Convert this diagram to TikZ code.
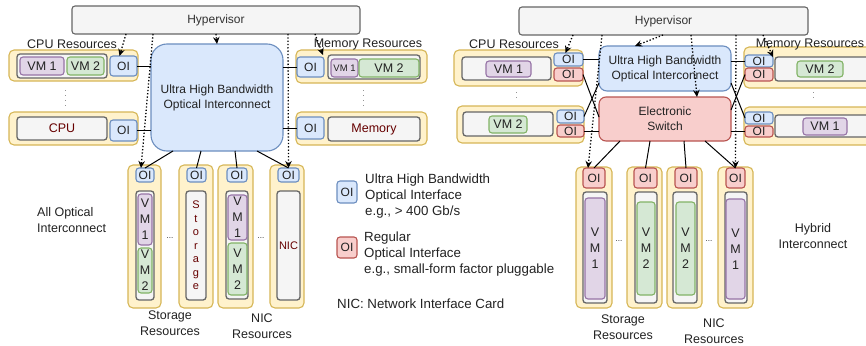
\documentclass[tikz,border=0pt]{standalone}
\usepackage{fontspec}
\setmainfont{Liberation Sans}
\usepackage{tikz}
\usetikzlibrary{positioning,arrows.meta}

\definecolor{grayfill}{HTML}{F5F5F5}
\definecolor{graydraw}{HTML}{666666}
\definecolor{bluefill}{HTML}{DAE8FC}
\definecolor{bluedraw}{HTML}{6C8EBF}
\definecolor{redfill}{HTML}{F8CECC}
\definecolor{reddraw}{HTML}{B85450}
\definecolor{yelfill}{HTML}{FFF2CC}
\definecolor{yeldraw}{HTML}{D6B656}
\definecolor{purfill}{HTML}{E1D5E7}
\definecolor{purdraw}{HTML}{9673A6}
\definecolor{grnfill}{HTML}{D5E8D4}
\definecolor{grndraw}{HTML}{82B366}
\definecolor{devtext}{HTML}{660000}
\definecolor{txt}{HTML}{222222}

\begin{document}
\begin{tikzpicture}[x=1pt, y=-1pt,
    base/.style={draw, line width=1.1pt, rounded corners=3pt, inner sep=0pt, outer sep=0pt,
      anchor=north west, align=center, text=txt, font=\fontsize{12.5}{16}\selectfont},
    wh/.style 2 args={minimum width=#1pt, minimum height=#2pt},
    hyper/.style={base, fill=grayfill, draw=graydraw, text=black!80, font=\fontsize{12}{15}\selectfont},
    optic/.style={base, fill=bluefill, draw=bluedraw, rounded corners=16pt, font=\fontsize{12}{15}\selectfont},
    switchbox/.style={base, fill=redfill, draw=reddraw, rounded corners=7pt, font=\fontsize{12}{15}\selectfont},
    res/.style={base, fill=yelfill, draw=yeldraw, rounded corners=5pt},
    host/.style={base, fill=grayfill, draw=graydraw, line width=1.3pt, text=devtext},
    vmone/.style={base, fill=purfill, draw=purdraw},
    vmtwo/.style={base, fill=grnfill, draw=grndraw},
    oib/.style={base, fill=bluefill, draw=bluedraw, font=\fontsize{12}{14}\selectfont},
    oir/.style={base, fill=redfill, draw=reddraw, font=\fontsize{12}{14}\selectfont},
    lbl/.style={inner sep=0pt, align=center, text=txt, font=\fontsize{12.5}{16}\selectfont},
    legtext/.style={lbl, align=left, anchor=north west, font=\fontsize{13.3}{16}\selectfont},
    link/.style={line width=1pt},
    ctrl/.style={line width=1.3pt, dash pattern=on 1.3pt off 2pt, -{Stealth[length=7pt,width=6.5pt]}},
    vdots/.style={graydraw!70, line width=1pt, dash pattern=on 1pt off 4pt}]

    \useasboundingbox (0,0) rectangle (866,345);
    \clip (0,0) rectangle (866,345);

    \node[hyper, wh={288}{28}] (hypL) at (72,6) {Hypervisor};
    \node[optic, wh={132}{107}] (optL) at (151,44) {Ultra High Bandwidth\\Optical Interconnect};

    \node[res, wh={129}{31}] (cpuA) at (9,50) {};
    \node[host, wh={90}{24}] (cpuAin) at (17,54) {};
    \node[vmone, wh={44}{18}] (vmA1) at (20,57) {VM 1};
    \node[vmtwo, wh={37}{18}, right=3pt of vmA1] (vmA2) {VM 2};
    \node[oib, wh={27}{20}] (oiA) at (110,56) {OI};
    \draw[vdots] (65,90) -- (65,106);
    \node[res, wh={129}{33}] (cpuB) at (9,112) {};
    \node[host, wh={90}{23}] (cpuBin) at (17,117) {CPU};
    \node[oib, wh={27}{21}] (oiB) at (110,120) {OI};
    \node[lbl] (cpuLblL) at (72,44) {CPU Resources};

    \node[res, wh={131}{33}] (memA) at (296,50) {};
    \node[oib, wh={27}{20}] (oiC) at (297,57) {OI};
    \node[host, wh={92}{24}] (memAin) at (328,55) {};
    \node[vmone, wh={27}{18}, font=\fontsize{9.5}{11}\selectfont] (vmC1) at (331,59) {VM 1};
    \node[vmtwo, wh={60}{18}] (vmC2) at (359,59) {VM 2};
    \draw[vdots] (363,90) -- (363,106);
    \node[res, wh={131}{33}] (memB) at (296,112) {};
    \node[oib, wh={27}{22}] (oiD) at (297,117) {OI};
    \node[host, wh={92}{24}] (memBin) at (328,117) {Memory};
    \node[lbl] (memLblL) at (368,44) {Memory Resources};

    \node[res, wh={33}{143}] (stA) at (128,165) {};
    \node[oib, wh={18}{14}] (oiE) at (136,168) {OI};
    \node[host, wh={18}{109}] (stAin) at (136,191) {};
    \node[vmone, wh={14}{51}] (vmE1) at (138,194) {V\\M\\1};
    \node[vmtwo, wh={14}{45}] (vmE2) at (138,248) {V\\M\\2};
    \node[lbl, font=\fontsize{8}{8}\selectfont] (dotsE) at (170,238) {...};
    \node[res, wh={34}{143}] (stB) at (179,165) {};
    \node[oib, wh={19}{14}] (oiF) at (187,168) {OI};
    \node[host, wh={20}{109}, font=\fontsize{11}{13.5}\selectfont] (stBin) at (186,191) {S\\t\\o\\r\\a\\g\\e};
    \node[res, wh={35}{143}] (nicA) at (218,165) {};
    \node[oib, wh={20}{14}] (oiG) at (227,168) {OI};
    \node[host, wh={22}{108}] (nicAin) at (226,191) {};
    \node[vmone, wh={19}{45}] (vmG1) at (228,195) {V\\M\\1};
    \node[vmtwo, wh={19}{52}] (vmG2) at (228,243) {V\\M\\2};
    \node[lbl, font=\fontsize{8}{8}\selectfont] (dotsG) at (261,238) {...};
    \node[res, wh={34}{143}] (nicB) at (270,165) {};
    \node[oib, wh={21}{14}] (oiH) at (278,168) {OI};
    \node[host, wh={23}{109}, font=\fontsize{11}{13}\selectfont] (nicBin) at (277,191) {NIC};
    \node[lbl] (stLblL) at (170,323) {Storage\\Resources};
    \node[lbl] (nicLblL) at (262,326) {NIC\\Resources};
    \node[lbl, align=left, anchor=west] (allOpt) at (37,220) {All Optical\\Interconnect};

    \node[oib, wh={20}{22}] (legB) at (337,181) {OI};
    \node[legtext, right=8pt of legB.north east, anchor=north west, yshift=7pt] (legBtxt) {Ultra High Bandwidth\\Optical Interface\\e.g., > 400 Gb/s};
    \node[oir, wh={20}{21}] (legR) at (337,237) {OI};
    \node[legtext, right=7pt of legR.north east, anchor=north west, yshift=5pt] (legRtxt) {Regular\\Optical Interface\\e.g., small-form factor pluggable};
    \node[legtext] (nicNote) at (337,299) {NIC: Network Interface Card};

    \draw[link] (oiA.east) -- (oiA.east -| optL.west);
    \draw[link] (oiB.east) -- (oiB.east -| optL.west);
    \draw[link] (oiC.west) -- (oiC.west -| optL.east);
    \draw[link] (oiD.west) -- (oiD.west -| optL.east);
    \draw[link] ([xshift=22pt]optL.south west) -- (oiE.north);
    \draw[link] ([xshift=50pt]optL.south west) -- (oiF.north);
    \draw[link] ([xshift=84pt]optL.south west) -- (oiG.north);
    \draw[link] ([xshift=106pt]optL.south west) -- (oiH.north);

    \draw[ctrl] ([xshift=54pt]hypL.south west) -- ([xshift=-4pt]oiA.north);
    \draw[ctrl] ([xshift=81pt]hypL.south west) -- ([xshift=-4pt]oiE.north);
    \draw[ctrl] ([xshift=144pt]hypL.south west) -- (optL.north);
    \draw[ctrl] ([xshift=216pt]hypL.south west) -- (oiH.north);
    \draw[ctrl] ([xshift=243pt]hypL.south west) -- ([xshift=-5pt]memAin.north west);

    \node[hyper, wh={289}{28}] (hypR) at (519,7) {Hypervisor};
    \node[optic, wh={132}{45}, rounded corners=8pt] (optR) at (599,46) {Ultra High Bandwidth\\Optical Interconnect};
    \node[switchbox, wh={132}{44}] (swR) at (599,97) {Electronic\\Switch};

    \node[res, wh={129}{36}] (cpuC) at (454,50) {};
    \node[host, wh={89}{23}] (cpuCin) at (462,57) {};
    \node[vmone, wh={45}{16}] (vmR1) at (486,61) {VM 1};
    \node[oib, wh={29}{13}] (oiR1b) at (554,53) {OI};
    \node[oir, wh={29}{13}] (oiR1r) at (554,68) {OI};
    \draw[vdots] (516,92) -- (516,101);
    \node[res, wh={127}{37}] (cpuD) at (457,106) {};
    \node[host, wh={90}{24}] (cpuDin) at (463,112) {};
    \node[vmtwo, wh={38}{17}] (vmR2) at (489,116) {VM 2};
    \node[oib, wh={27}{13}] (oiR2b) at (557,110) {OI};
    \node[oir, wh={27}{12}] (oiR2r) at (557,125) {OI};
    \node[lbl] (cpuLblR) at (514,44) {CPU Resources};

    \node[res, wh={140}{41}] (memC) at (744,47) {};
    \node[oib, wh={28}{12}] (oiM1b) at (745,55) {OI};
    \node[oir, wh={28}{13}] (oiM1r) at (745,68) {OI};
    \node[host, wh={100}{24}] (memCin) at (775,57) {};
    \node[vmtwo, wh={46}{16}] (vmM1) at (797,61) {VM 2};
    \draw[vdots] (813,92) -- (813,101);
    \node[res, wh={140}{38}] (memD) at (744,107) {};
    \node[oib, wh={28}{12}] (oiM2b) at (745,112) {OI};
    \node[oir, wh={28}{11}] (oiM2r) at (745,126) {OI};
    \node[host, wh={100}{22}] (memDin) at (775,115) {};
    \node[vmone, wh={44}{17}] (vmM2) at (803,118) {VM 1};
    \node[lbl] (memLblR) at (810,44) {Memory Resources};

    \node[res, wh={36}{141}] (stC) at (576,167) {};
    \node[oir, wh={22}{20}] (oiI) at (583,168) {OI};
    \node[host, wh={24}{111}] (stCin) at (583,192) {};
    \node[vmone, wh={20}{101}] (vmI) at (585,198) {V\\M\\1};
    \node[lbl, font=\fontsize{8}{8}\selectfont] (dotsI) at (619,241) {...};
    \node[res, wh={35}{141}] (stD) at (627,167) {};
    \node[oir, wh={23}{20}] (oiJ) at (634,168) {OI};
    \node[host, wh={22}{111}] (stDin) at (635,192) {};
    \node[vmtwo, wh={18}{93}] (vmJ) at (637,202) {V\\M\\2};
    \node[res, wh={35}{141}] (nicC) at (667,167) {};
    \node[oir, wh={22}{20}] (oiK) at (675,168) {OI};
    \node[host, wh={24}{111}] (nicCin) at (673,192) {};
    \node[vmtwo, wh={19}{93}] (vmK) at (676,202) {V\\M\\2};
    \node[lbl, font=\fontsize{8}{8}\selectfont] (dotsK) at (709,241) {...};
    \node[res, wh={35}{141}] (nicD) at (718,167) {};
    \node[oir, wh={19}{20}] (oiL) at (726,168) {OI};
    \node[host, wh={22}{111}] (nicDin) at (725,192) {};
    \node[vmone, wh={19}{100}] (vmL) at (726,199) {V\\M\\1};
    \node[lbl] (stLblR) at (623,327) {Storage\\Resources};
    \node[lbl] (nicLblR) at (714,331) {NIC\\Resources};
    \node[lbl] (hybrid) at (813,236) {Hybrid\\Interconnect};

    \draw[link] (oiR1b.east) -- (oiR1b.east -| optR.west);
    \draw[link] (oiR1r.east) -- ([yshift=-20pt]swR.north west);
    \draw[link] (oiR2b.east) -- ([yshift=8pt]optR.south west);
    \draw[link] (oiR2r.east) -- (oiR2r.east -| swR.west);
    \draw[link] (oiM1b.west) -- (oiM1b.west -| optR.east);
    \draw[link] (oiM2b.west) -- ([yshift=8pt]optR.south east);
    \draw[link] (oiM1r.west) -- ([yshift=-13pt]swR.north east);
    \draw[link] (oiM2r.west) -- (oiM2r.west -| swR.east);
    \draw[link] ([xshift=21pt]swR.south west) -- (oiI.north);
    \draw[link] ([xshift=51pt]swR.south west) -- (oiJ.north);
    \draw[link] ([xshift=85pt]swR.south west) -- (oiK.north);
    \draw[link] ([xshift=106pt]swR.south west) -- (oiL.north);

    \draw[ctrl] ([xshift=54pt]hypR.south west) -- ([xshift=-3pt]oiR1b.north);
    \draw[ctrl] ([xshift=83pt]hypR.south west) -- ([xshift=-6pt]oiI.north);
    \draw[ctrl] ([xshift=144pt]hypR.south west) -- ([xshift=-30pt]optR.north);
    \draw[ctrl] ([xshift=172pt]hypR.south west) -- ([xshift=32pt]swR.north);
    \draw[ctrl] ([xshift=217pt]hypR.south west) -- (oiL.north);
    \draw[ctrl] ([xshift=244pt]hypR.south west) -- ([xshift=-2pt]memCin.north west);
\end{tikzpicture}
\end{document}
